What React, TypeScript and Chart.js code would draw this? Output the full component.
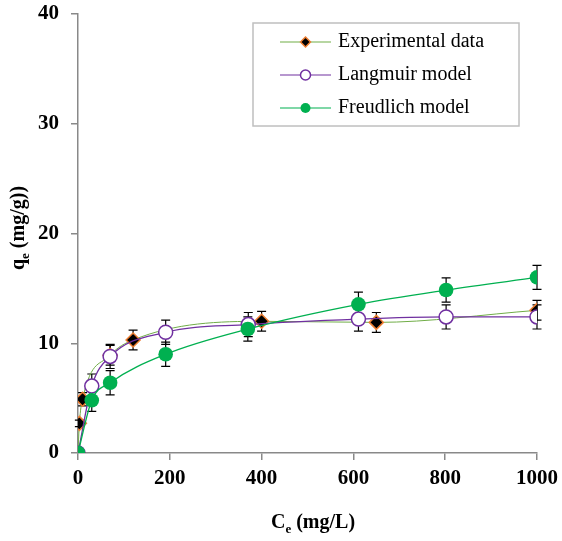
import React, { useEffect, useRef } from 'react';
import { Chart, registerables } from 'chart.js';

Chart.register(...registerables);

// ---- data ----
const expX = [0, 3, 10, 70, 120, 400, 650, 1000];
const expY = [0, 2.7, 4.9, 8.9, 10.3, 12.0, 11.9, 13.0];
const expErr = [0, 0.3, 0.6, 0.9, 0.9, 0.9, 0.9, 0.9];

const langX = [0, 30, 70, 191, 371, 611, 802, 1000];
const langY = [0, 6.1, 8.8, 11.0, 11.7, 12.2, 12.4, 12.4];
const langErr = [0, 1.1, 1.1, 1.1, 1.1, 1.1, 1.1, 1.1];

const freuX = [0, 30, 70, 191, 370, 611, 802, 1000];
const freuY = [0, 4.8, 6.4, 9.0, 11.3, 13.55, 14.85, 16.0];
const freuErr = [0, 1.0, 1.1, 1.1, 1.1, 1.1, 1.1, 1.1];

const seriesNames = ['Experimental data', 'Langmuir model', 'Freudlich model'];
const xTickValues = [0, 200, 400, 600, 800, 1000];
const yTickValues = [0, 10, 20, 30, 40];

const SERIF = "'Liberation Serif', 'Times New Roman', serif";

const toPoints = (xs: number[], ys: number[]) => xs.map((x, i) => ({ x, y: ys[i] }));

const errorBarPlugin = {
  id: 'errorBars',
  beforeDatasetsDraw(chart: any) {
    const { ctx } = chart;
    const xs = chart.scales.x;
    const ys = chart.scales.y;
    ctx.save();
    ctx.strokeStyle = '#000';
    ctx.lineWidth = 1.2;
    chart.data.datasets.forEach((ds: any) => {
      const errs: number[] = ds.errorValues || [];
      ds.data.forEach((p: any, j: number) => {
        const e = errs[j];
        if (!e) return;
        const px = xs.getPixelForValue(p.x);
        const top = ys.getPixelForValue(p.y + e);
        const bot = ys.getPixelForValue(p.y - e);
        ctx.beginPath();
        ctx.moveTo(px, top);
        ctx.lineTo(px, bot);
        ctx.moveTo(px - 4.5, top);
        ctx.lineTo(px + 4.5, top);
        ctx.moveTo(px - 4.5, bot);
        ctx.lineTo(px + 4.5, bot);
        ctx.stroke();
      });
    });
    ctx.restore();
  },
};

const drawMarker = (ctx: any, kind: number, x: number, y: number, r: number) => {
  ctx.save();
  ctx.beginPath();
  if (kind === 0) {
    ctx.moveTo(x, y - r);
    ctx.lineTo(x + r, y);
    ctx.lineTo(x, y + r);
    ctx.lineTo(x - r, y);
    ctx.closePath();
    ctx.fillStyle = '#000';
    ctx.fill();
    ctx.strokeStyle = '#ED7D31';
    ctx.lineWidth = 1.5;
    ctx.stroke();
  } else if (kind === 1) {
    ctx.arc(x, y, r, 0, Math.PI * 2);
    ctx.fillStyle = '#fff';
    ctx.fill();
    ctx.strokeStyle = '#7030A0';
    ctx.lineWidth = 1.5;
    ctx.stroke();
  } else {
    ctx.arc(x, y, r, 0, Math.PI * 2);
    ctx.fillStyle = '#00B050';
    ctx.fill();
  }
  ctx.restore();
};

const legendLineColors = ['#70AD47', '#7030A0', '#00B050'];

const overlayPlugin = {
  id: 'overlay',
  afterDraw(chart: any) {
    const { ctx } = chart;
    ctx.save();
    // legend box
    ctx.fillStyle = '#fff';
    ctx.fillRect(253, 23, 266, 103);
    ctx.strokeStyle = '#BFBFBF';
    ctx.lineWidth = 1.5;
    ctx.strokeRect(253, 23, 266, 103);
    const rows = [42, 75, 108];
    seriesNames.forEach((name, i) => {
      const ry = rows[i];
      ctx.strokeStyle = legendLineColors[i];
      ctx.lineWidth = 1.2;
      ctx.beginPath();
      ctx.moveTo(280, ry);
      ctx.lineTo(331, ry);
      ctx.stroke();
      drawMarker(ctx, i, 305.5, ry, 5);
      ctx.fillStyle = '#000';
      ctx.font = `20px ${SERIF}`;
      ctx.textAlign = 'left';
      ctx.textBaseline = 'alphabetic';
      ctx.fillText(name, 338, ry + 5);
    });

    const big = `bold 20px ${SERIF}`;
    const small = `bold 13px ${SERIF}`;
    const drawTitle = (main: string, sub: string, rest: string, cx: number, baseY: number) => {
      ctx.font = big;
      const w1 = ctx.measureText(main).width;
      const w3 = ctx.measureText(rest).width;
      ctx.font = small;
      const w2 = ctx.measureText(sub).width;
      const total = w1 + w2 + w3;
      let x0 = cx - total / 2;
      ctx.fillStyle = '#000';
      ctx.textAlign = 'left';
      ctx.textBaseline = 'alphabetic';
      ctx.font = big;
      ctx.fillText(main, x0, baseY);
      x0 += w1;
      ctx.font = small;
      ctx.fillText(sub, x0, baseY + 5);
      x0 += w2;
      ctx.font = big;
      ctx.fillText(rest, x0, baseY);
    };
    drawTitle('C', 'e', ' (mg/L)', 313, 528);

    ctx.save();
    ctx.translate(24, 228);
    ctx.rotate(-Math.PI / 2);
    drawTitle('q', 'e', ' (mg/g))', 0, 0);
    ctx.restore();

    ctx.restore();
  },
};

const zeroPadding = (s: any) => {
  s.paddingTop = 0;
  s.paddingBottom = 0;
  s.paddingLeft = 0;
  s.paddingRight = 0;
};

export default function App() {
  const canvasRef = useRef<HTMLCanvasElement | null>(null);

  useEffect(() => {
    const canvas = canvasRef.current;
    if (!canvas) return;
    const chart = new Chart(canvas, {
      type: 'line',
      data: {
        datasets: [
          {
            label: seriesNames[0],
            data: toPoints(expX, expY),
            errorValues: expErr,
            borderColor: '#70AD47',
            borderWidth: 1,
            pointStyle: 'rectRot',
            pointRadius: 7,
            pointBackgroundColor: '#000',
            pointBorderColor: '#ED7D31',
            pointBorderWidth: 1.5,
            cubicInterpolationMode: 'monotone',
            order: 3,
          } as any,
          {
            label: seriesNames[1],
            data: toPoints(langX, langY),
            errorValues: langErr,
            borderColor: '#7030A0',
            borderWidth: 1.3,
            pointStyle: 'circle',
            pointRadius: 7,
            pointBackgroundColor: '#fff',
            pointBorderColor: '#7030A0',
            pointBorderWidth: 1.5,
            cubicInterpolationMode: 'monotone',
            order: 2,
          } as any,
          {
            label: seriesNames[2],
            data: toPoints(freuX, freuY),
            errorValues: freuErr,
            borderColor: '#00B050',
            borderWidth: 1.3,
            pointStyle: 'circle',
            pointRadius: 7.3,
            pointBackgroundColor: '#00B050',
            pointBorderColor: '#00B050',
            pointBorderWidth: 0,
            cubicInterpolationMode: 'monotone',
            order: 1,
          } as any,
        ],
      },
      options: {
        animation: false,
        responsive: false,
        events: [],
        layout: {
          autoPadding: false,
          padding: { left: 0, right: 25, top: 14, bottom: 0 },
        } as any,
        plugins: {
          legend: { display: false },
          tooltip: { enabled: false },
        },
        scales: {
          x: {
            type: 'linear',
            min: 0,
            max: 1000,
            afterFit: (s: any) => { s.height = 88; zeroPadding(s); },
            afterBuildTicks: (s: any) => { s.ticks = xTickValues.map((v) => ({ value: v })); },
            grid: { display: true, drawOnChartArea: false, drawTicks: true, tickLength: 7, color: '#898989', lineWidth: 1.5 },
            border: { display: true, color: '#898989', width: 1.5 },
            ticks: {
              padding: 6,
              color: '#000',
              maxRotation: 0,
              callback: (v: any) => String(v),
              font: { family: SERIF, size: 21, weight: 'bold' },
            },
          },
          y: {
            type: 'linear',
            min: 0,
            max: 40,
            afterFit: (s: any) => { s.width = 78; zeroPadding(s); },
            afterBuildTicks: (s: any) => { s.ticks = yTickValues.map((v) => ({ value: v })); },
            grid: { display: true, drawOnChartArea: false, drawTicks: true, tickLength: 7, color: '#898989', lineWidth: 1.5 },
            border: { display: true, color: '#898989', width: 1.5 },
            ticks: {
              padding: 12,
              color: '#000',
              callback: (v: any) => String(v),
              font: { family: SERIF, size: 21, weight: 'bold' },
            },
          },
        },
      } as any,
      plugins: [errorBarPlugin, overlayPlugin],
    });
    return () => chart.destroy();
  }, []);

  return (
    <div style={{ position: 'fixed', left: 0, top: 0, width: 562, height: 541, background: '#fff' }}>
      <canvas ref={canvasRef} width={562} height={541} />
    </div>
  );
}
